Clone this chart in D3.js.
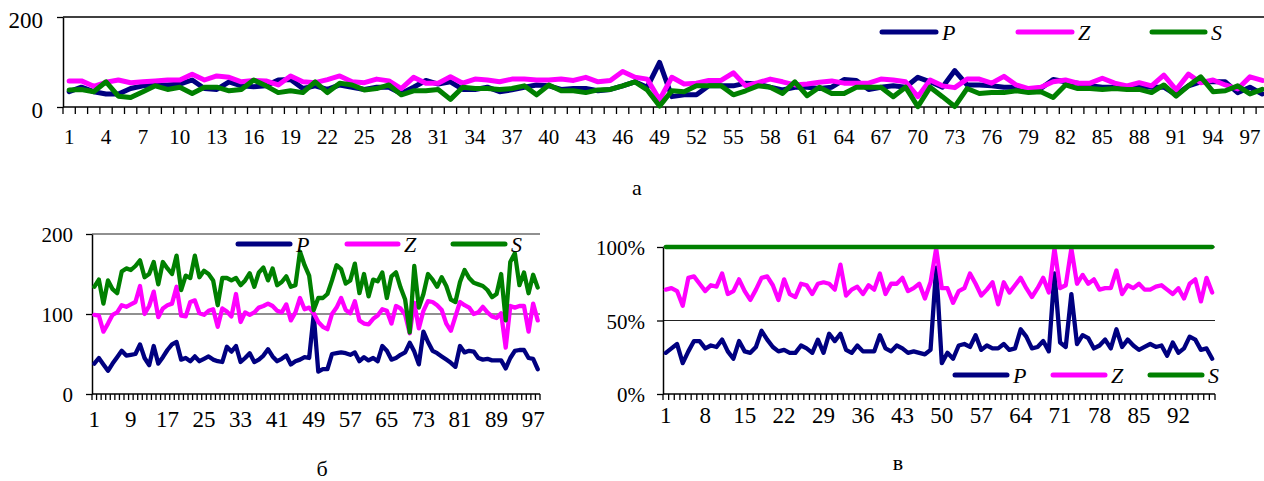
<!DOCTYPE html>
<html><head><meta charset="utf-8">
<script src="https://cdn.jsdelivr.net/npm/d3@7"></script>
<style>
body{margin:0;background:#fff}
svg{display:block}
text{font-family:"Liberation Serif","Times New Roman",serif}
</style>
</head><body>
<svg id="c" width="1264" height="481"></svg>
<script>
// ---------- DATA ----------
const categories = [1,2,3,4,5,6,7,8,9,10,11,12,13,14,15,16,17,18,19,20,21,22,23,24,25,26,27,28,29,30,31,32,33,34,35,36,37,38,39,40,41,42,43,44,45,46,47,48,49,50,51,52,53,54,55,56,57,58,59,60,61,62,63,64,65,66,67,68,69,70,71,72,73,74,75,76,77,78,79,80,81,82,83,84,85,86,87,88,89,90,91,92,93,94,95,96,97,98];
const seriesNames = ["P","Z","S"];

// panel а
const aP = [34,44,34,29,29,41,47,49,49,51, 60,41,39,56,47,45,47,60,61,41, 47,39,49,44,39,44,44,30,44,59, 51,56,39,39,44,34,38,44,49,47, 39,41,41,36,39,47,56,44,99,23, 27,27,47,47,47,53,51,44,38,44, 44,41,44,61,59,39,44,47,44,66, 56,44,81,49,49,47,44,44,38,41, 61,56,53,47,44,44,44,47,44,44, 27,47,56,56,56,32,44,29];
const aZ = [58,58,46,55,60,54,56,58,60,60, 73,60,69,66,56,59,58,49,69,56, 54,61,69,56,54,62,58,41,66,53, 53,67,53,62,60,56,62,62,60,60, 62,59,66,56,59,79,66,62,16,66, 51,53,59,59,76,47,54,62,56,49, 51,55,58,53,53,53,62,60,56,23, 60,47,43,62,62,53,68,49,41,44, 56,60,53,53,64,53,47,54,47,71, 38,73,54,60,49,40,67,59];
const aS = [38,39,34,56,24,21,34,47,39,44, 30,44,44,36,39,60,47,32,36,32, 56,32,53,49,38,41,49,27,36,36, 39,17,44,41,41,39,41,47,27,49, 36,36,32,38,39,47,56,38,2,36, 34,47,47,47,27,36,47,44,30,56, 25,44,30,30,44,44,44,23,44,1, 44,23,1,41,30,32,32,36,32,34, 21,49,41,41,39,41,39,39,32,49, 24,47,67,34,36,47,29,39];

// panel б
const bP = [38,45,37,29,38,46,54,48,49,50, 62,45,36,60,38,46,55,62,65,43, 45,41,47,41,44,47,43,41,40,59, 53,60,40,45,51,40,43,48,56,47, 41,44,48,37,41,43,46,45,99,28, 31,31,50,51,52,51,49,52,41,46, 42,45,41,60,54,43,45,49,52,64, 53,37,78,65,54,51,47,43,39,34, 60,52,54,53,45,43,44,42,42,42, 32,45,54,55,55,45,44,31];
const bZ = [99,98,78,88,99,102,111,109,112,115, 135,100,110,128,96,107,111,113,134,98, 97,115,117,101,99,104,106,84,107,103, 97,125,90,102,99,102,108,110,113,110, 104,102,112,92,102,120,106,108,101,90, 84,81,100,108,120,105,101,116,92,88, 87,94,98,106,104,88,110,107,99,76, 114,82,104,116,115,111,105,88,79,97, 115,111,108,100,102,109,102,97,95,101, 58,110,108,110,110,78,113,92];
const bS = [134,143,113,142,131,126,153,157,155,160, 167,146,150,165,137,165,157,150,173,130, 148,145,173,146,154,150,142,111,145,145, 142,145,136,142,151,134,152,158,142,157, 136,140,147,134,136,178,161,148,105,120, 120,125,142,161,156,138,142,163,126,150, 122,143,141,152,120,147,152,133,118,77, 160,108,125,150,143,134,146,135,118,115, 140,155,145,139,137,135,130,121,125,150, 92,165,176,136,152,126,149,133];

// panel в (percent)
const cP = [28,31,34,21,29,36,36,31,33,32, 37,29,24,36,29,28,32,43,37,32, 29,30,28,28,33,31,28,37,28,41, 36,41,30,28,33,29,29,29,40,31, 29,33,31,28,29,28,27,30,86,21, 28,24,33,34,32,40,30,33,31,31, 34,30,31,44,39,31,32,36,29,82, 35,32,68,34,40,38,31,33,37,31, 44,32,37,33,30,32,34,32,33,26, 35,28,31,39,37,30,31,24];
const cZ = [71,72,70,60,79,80,75,70,74,73, 82,68,70,78,70,64,71,79,80,74, 64,78,68,66,75,74,68,75,76,75, 71,88,67,71,73,68,74,71,82,68, 75,75,79,70,72,75,65,76,99,72, 72,62,70,72,82,75,67,71,76,61, 76,69,74,79,72,66,72,79,69,99, 72,74,99,75,81,75,78,71,72,72, 84,68,74,72,75,71,71,73,74,71, 68,72,65,75,78,63,79,69];
const cS = [100,100,100,100,100,100,100,100,100,100, 100,100,100,100,100,100,100,100,100,100, 100,100,100,100,100,100,100,100,100,100, 100,100,100,100,100,100,100,100,100,100, 100,100,100,100,100,100,100,100,100,100, 100,100,100,100,100,100,100,100,100,100, 100,100,100,100,100,100,100,100,100,100, 100,100,100,100,100,100,100,100,100,100, 100,100,100,100,100,100,100,100,100,100, 100,100,100,100,100,100,100,100];

// tick labels
const xLabelsA = [1,4,7,10,13,16,19,22,25,28,31,34,37,40,43,46,49,52,55,58,61,64,67,70,73,76,79,82,85,88,91,94,97];
const xLabelsB = [1,9,17,25,33,41,49,57,65,73,81,89,97];
const xLabelsC = [1,8,15,22,29,36,43,50,57,64,71,78,85,92];
const yTicksA = [0,200];
const yTicksB = [0,100,200];
const yTicksC = [0,50,100];
const captions = ["а","б","в"];

// ---------- DRAW ----------
const svg = d3.select("#c");
const colors = ["#000080","#FF00FF","#008000"];
const FONT = "'Liberation Serif','Times New Roman',serif";

function panel(cfg){
  const x = d3.scaleBand().domain(categories).range([cfg.x0, cfg.x1]);
  const y = d3.scaleLinear().domain([0, cfg.yMax]).range([cfg.yBottom, cfg.yTop]);
  const g = svg.append("g");
  const right = cfg.visRight ?? cfg.x1;

  // gridlines
  g.selectAll(null).data(cfg.yTicks.filter(t => t > 0)).join("line")
    .attr("x1", cfg.x0).attr("x2", right)
    .attr("y1", d => y(d)).attr("y2", d => y(d))
    .attr("stroke", cfg.gridColor).attr("stroke-width", cfg.gridW);

  // x axis line + ticks at category boundaries
  g.append("line").attr("x1", cfg.x0).attr("x2", right)
    .attr("y1", y(0)).attr("y2", y(0)).attr("stroke", "#000").attr("stroke-width", 1.5);
  const bounds = categories.map(c => x(c)).concat([x(categories[categories.length-1]) + x.bandwidth()]);
  g.selectAll(null).data(bounds).join("line")
    .attr("x1", d => d).attr("x2", d => d)
    .attr("y1", y(0)).attr("y2", y(0) + cfg.xTickLen)
    .attr("stroke", "#000").attr("stroke-width", 1.3);

  // x labels
  const xg = g.append("g").attr("transform", `translate(0,${y(0)})`)
    .call(d3.axisBottom(x).tickValues(cfg.xLabels).tickSize(0).tickPadding(cfg.xPad));
  xg.select(".domain").remove();
  xg.attr("font-family", FONT).attr("font-size", cfg.xFont);
  xg.selectAll("text").attr("fill", "#000");

  // y axis
  const yg = g.append("g").attr("transform", `translate(${cfg.x0},0)`)
    .call(d3.axisLeft(y).tickValues(cfg.yTicks).tickSize(6).tickSizeOuter(0).tickPadding(cfg.yPad).tickFormat(cfg.yFmt));
  yg.attr("font-family", FONT).attr("font-size", cfg.yFont);
  yg.select(".domain").attr("stroke", "#000").attr("stroke-width", 1.5);
  yg.selectAll(".tick line").attr("stroke", "#000").attr("stroke-width", 1.3);
  yg.selectAll("text").attr("fill", "#000").attr("dy", cfg.yDy);

  // series
  const line = d3.line()
    .x((d, i) => x(categories[i]) + x.bandwidth() / 2)
    .y(d => y(d));
  cfg.series.forEach((s, k) => {
    g.append("path").datum(s).attr("d", line)
      .attr("fill", "none").attr("stroke", colors[k])
      .attr("stroke-width", cfg.lineW).attr("stroke-linejoin", "round").attr("stroke-linecap", "round");
  });

  // legend
  const lg = g.append("g");
  cfg.legend.forEach((L, k) => {
    lg.append("line").attr("x1", L[0]).attr("x2", L[1]).attr("y1", cfg.legendY).attr("y2", cfg.legendY)
      .attr("stroke", colors[k]).attr("stroke-width", 5).attr("stroke-linecap", "round");
    lg.append("text").attr("x", L[2]).attr("y", cfg.legendY + 8)
      .attr("font-family", FONT).attr("font-size", 22).attr("font-style", "italic")
      .text(seriesNames[k]);
  });

  // caption
  svg.append("text").attr("x", cfg.cap[0]).attr("y", cfg.cap[1]).attr("text-anchor", "middle")
    .attr("font-family", FONT).attr("font-size", 22).text(cfg.caption);
}

panel({
  x0: 63, x1: 63 + 98 * 12.3, visRight: 1264, yTop: 17, yBottom: 107, yMax: 200,
  yTicks: yTicksA, yFmt: d => d, yFont: 23, yPad: 14, yDy: "0.45em",
  xLabels: xLabelsA, xFont: 21, xPad: 22, xTickLen: 7,
  gridColor: "#000", gridW: 1.5, lineW: 5,
  series: [aP, aZ, aS],
  legendY: 32, legend: [[882,936,942],[1018,1072,1078],[1152,1205,1211]],
  caption: captions[0], cap: [637, 195]
});

panel({
  x0: 92, x1: 540, yTop: 234, yBottom: 394, yMax: 200,
  yTicks: yTicksB, yFmt: d => d, yFont: 21, yPad: 13, yDy: "0.36em",
  xLabels: xLabelsB, xFont: 23, xPad: 17, xTickLen: 6,
  gridColor: "#222", gridW: 1.2, lineW: 4.3,
  series: [bP, bZ, bS],
  legendY: 244, legend: [[238,290,296],[347,398,404],[453,505,511]],
  caption: captions[1], cap: [322, 476]
});

panel({
  x0: 663, x1: 1215, yTop: 247, yBottom: 394, yMax: 100,
  yTicks: yTicksC, yFmt: d => d + "%", yFont: 21, yPad: 12, yDy: "0.36em",
  xLabels: xLabelsC, xFont: 23, xPad: 13, xTickLen: 6,
  gridColor: "#222", gridW: 1.2, lineW: 4.3,
  series: [cP, cZ, cS],
  legendY: 375, legend: [[955,1007,1013],[1053,1105,1111],[1150,1202,1208]],
  caption: captions[2], cap: [898, 470]
});
</script>
</body></html>
